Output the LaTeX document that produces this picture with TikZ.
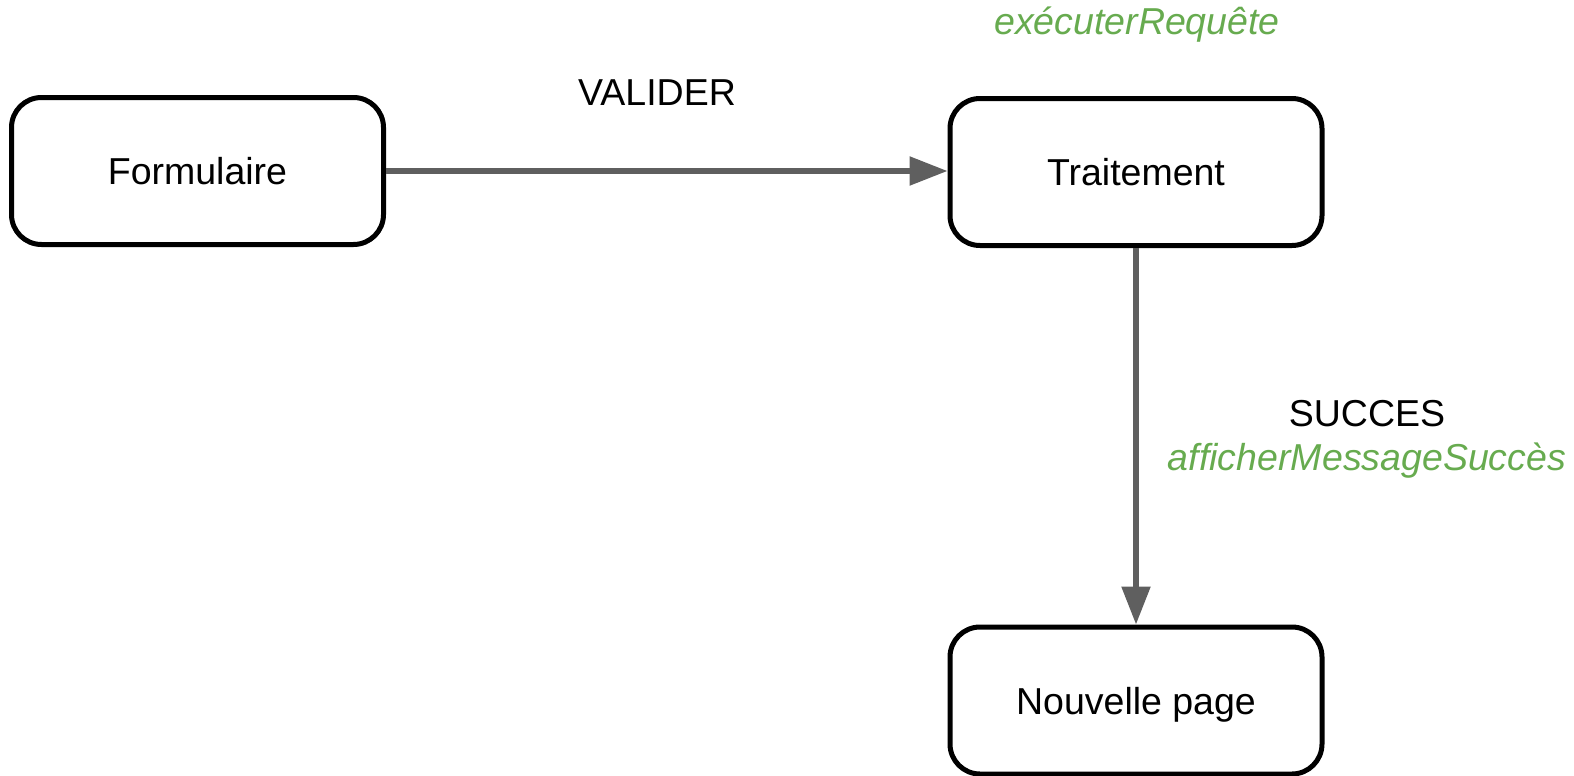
\documentclass[tikz,border=0pt]{standalone}
\usepackage{fontspec}
\setmainfont{Liberation Sans}
\usetikzlibrary{arrows.meta}
\definecolor{arrowgray}{HTML}{5F5F5F}
\definecolor{labelgreen}{HTML}{67AB4F}
\tikzset{
  statebox/.style={draw=black, line width=5pt, rounded corners=30pt, fill=white,
    minimum width=372pt, minimum height=147pt, inner sep=0pt,
    text height=27pt, text depth=0pt, font=\fontsize{37.5pt}{45pt}\selectfont},
  flow/.style={draw=arrowgray, line width=5.5pt, -{Triangle[length=38pt,width=28pt]}},
  lbl/.style={inner sep=0pt, anchor=base, font=\fontsize{37.5pt}{45pt}\selectfont},
  act/.style={lbl, text=labelgreen, font=\fontsize{37.5pt}{45pt}\selectfont\itshape}
}
\begin{document}
\begin{tikzpicture}[x=1pt,y=-1pt]
\useasboundingbox (0,0) rectangle (1574,776);
\node[statebox] (form) at (197.5,171) {Formulaire};
\node[statebox] (trait) at (1136,172) {Traitement};
\node[statebox] (page) at (1136,700.5) {Nouvelle page};
\draw[flow] (form.east) -- (form.east -| trait.west);
\draw[flow] (trait.south) -- (page.north);
\node[lbl] (valider) at (657,105) {VALIDER};
\node[act] (exec) at (1137,35) {exécuterRequête};
\node[lbl] (succes) at (1367,426) {SUCCES};
\node[act] (affich) at (1367,470) {afficherMessageSuccès};
\end{tikzpicture}
\end{document}
